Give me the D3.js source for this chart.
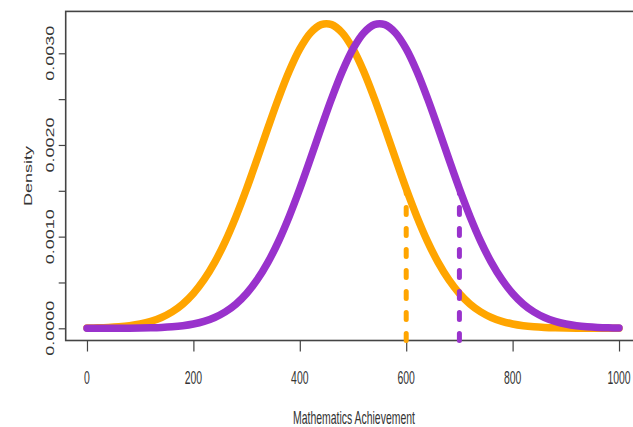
<!DOCTYPE html>
<html>
<head>
<meta charset="utf-8">
<script src="https://cdn.jsdelivr.net/npm/d3@7"></script>
<style>
  body { margin: 0; background: #fff; }
  text { font-family: "Liberation Sans", Arial, sans-serif; fill: #333; }
</style>
</head>
<body>
<div id="chart"></div>
<script>
// scores on the x axis (0..1000 by 20)
var scores = d3.range(0, 1001, 20);

// density (group centred near 450)
var orangeDensity = [
  0.0000029, 0.0000054, 0.0000097, 0.0000169, 0.0000287, 0.0000473, 0.0000758, 0.000118, 0.000179, 0.0002645,
  0.000380, 0.000530, 0.000719, 0.000949, 0.001219, 0.001522, 0.001849, 0.002184, 0.002509, 0.002804,
  0.003048, 0.003222, 0.003313, 0.003313, 0.003222, 0.003048, 0.002804, 0.002509, 0.002184, 0.001849,
  0.001522, 0.001219, 0.000949, 0.000719, 0.000530, 0.000380, 0.0002645, 0.000179, 0.000118, 0.0000758,
  0.0000473, 0.0000287, 0.0000169, 0.0000097, 0.0000054, 0.0000029, 0.0000015, 0.0000008, 0.0000004, 0.0000002,
  0.0000001
];

// density (group centred near 550)
var purpleDensity = [
  0.0000001, 0.0000002, 0.0000004, 0.0000008, 0.0000015, 0.0000029, 0.0000054, 0.0000097, 0.0000169, 0.0000287,
  0.0000473, 0.0000758, 0.000118, 0.000179, 0.0002645, 0.000380, 0.000530, 0.000719, 0.000949, 0.001219,
  0.001522, 0.001849, 0.002184, 0.002509, 0.002804, 0.003048, 0.003222, 0.003313, 0.003313, 0.003222,
  0.003048, 0.002804, 0.002509, 0.002184, 0.001849, 0.001522, 0.001219, 0.000949, 0.000719, 0.000530,
  0.000380, 0.0002645, 0.000179, 0.000118, 0.0000758, 0.0000473, 0.0000287, 0.0000169, 0.0000097, 0.0000054,
  0.0000029
];

// cut-off markers: score and the height the dashed line reaches
var cutScores = [600, 700];
var cutHeights = [0.001522, 0.001522];

var xTicks = [0, 200, 400, 600, 800, 1000];
var yTicks = [0, 0.0005, 0.001, 0.0015, 0.002, 0.0025, 0.003];
var yLabels = [0, 0.001, 0.002, 0.003];

var width = 633, height = 427,
    fs = 18, sx = 0.62, sxh = 0.58,
    colors = ['#FFA500', '#9932CC'];

var x = d3.scaleLinear().domain([-40, 1040]).range([65.7, 640.3]);
var y = d3.scaleLinear().domain([-0.000133, 0.003457]).range([340.5, 11.4]);

var svg = d3.select('#chart').append('svg')
    .attr('width', width)
    .attr('height', height);

// plot box
svg.append('rect')
    .attr('x', x(-40)).attr('y', y(0.003457))
    .attr('width', x(1040) - x(-40))
    .attr('height', y(-0.000133) - y(0.003457))
    .style('fill', 'none')
    .style('stroke', '#444')
    .style('stroke-width', 1.6);

// axes
var xAxis = svg.append('g')
    .attr('transform', 'translate(0,' + y(-0.000133) + ')')
    .call(d3.axisBottom(x).tickValues(xTicks).tickSize(11).tickFormat(''));
var yAxis = svg.append('g')
    .attr('transform', 'translate(' + x(-40) + ',0)')
    .call(d3.axisLeft(y).tickValues(yTicks).tickSize(7).tickFormat(''));
[xAxis, yAxis].forEach(function(a) {
    a.select('.domain').remove();
    a.selectAll('line').style('stroke', '#444').style('stroke-width', 1.2);
});

// tick labels, squeezed horizontally like the original
svg.selectAll('.xlab')
    .data(xTicks)
    .enter().append('text')
    .attr('class', 'xlab')
    .attr('transform', function(d) { return 'translate(' + x(d) + ',384) scale(' + sxh + ',1)'; })
    .attr('text-anchor', 'middle')
    .style('font-size', fs + 'px')
    .text(function(d) { return d; });

svg.selectAll('.ylab')
    .data(yLabels)
    .enter().append('text')
    .attr('class', 'ylab')
    .attr('transform', function(d) { return 'translate(54,' + y(d) + ') scale(' + sx + ',1) rotate(-90)'; })
    .attr('text-anchor', 'middle')
    .style('font-size', fs + 'px')
    .text(function(d) { return d.toFixed(4); });

svg.append('text')
    .attr('transform', 'translate(354,424) scale(' + sxh + ',1)')
    .attr('text-anchor', 'middle')
    .style('font-size', fs + 'px')
    .text('Mathematics Achievement');

svg.append('text')
    .attr('transform', 'translate(32,176) scale(' + sx + ',1) rotate(-90)')
    .attr('text-anchor', 'middle')
    .style('font-size', fs + 'px')
    .text('Density');

// density curves
var line = d3.line()
    .x(function(d, i) { return x(scores[i]); })
    .y(function(d) { return y(d); })
    .curve(d3.curveCatmullRom);

svg.selectAll('.curve')
    .data([orangeDensity, purpleDensity])
    .enter().append('path')
    .attr('class', 'curve')
    .attr('d', line)
    .style('fill', 'none')
    .style('stroke', function(d, i) { return colors[i]; })
    .style('stroke-width', 7.5)
    .style('stroke-linecap', 'round')
    .style('stroke-linejoin', 'round');

// dashed cut-off lines
svg.selectAll('.cut')
    .data(cutScores)
    .enter().append('line')
    .attr('class', 'cut')
    .attr('x1', function(d) { return x(d); })
    .attr('x2', function(d) { return x(d); })
    .attr('y1', y(-0.000133))
    .attr('y2', function(d, i) { return y(cutHeights[i]); })
    .style('stroke', function(d, i) { return colors[i]; })
    .style('stroke-width', 5)
    .style('stroke-linecap', 'round')
    .style('stroke-dasharray', '7,14');
</script>
</body>
</html>
